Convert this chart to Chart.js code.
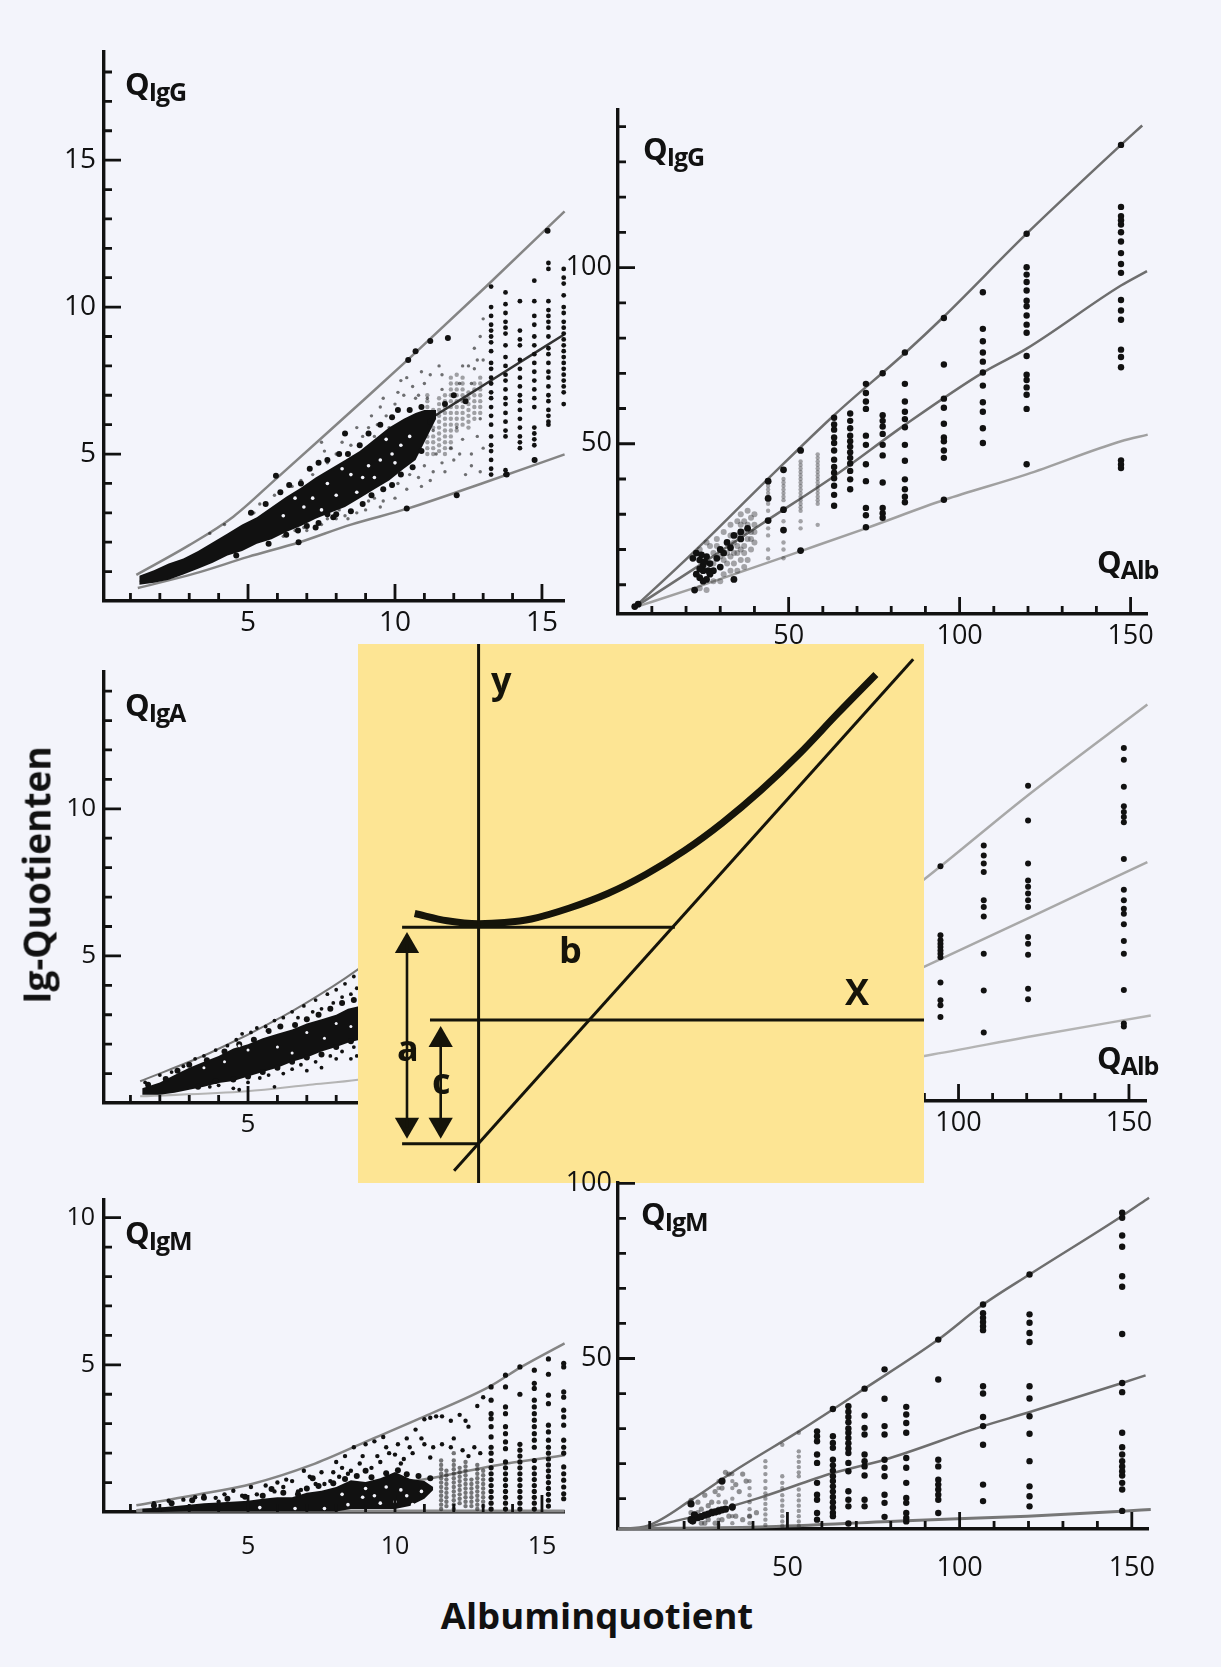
<!DOCTYPE html>
<html>
<head>
<meta charset="utf-8">
<title>Ig-Quotienten</title>
<script src="https://cdn.jsdelivr.net/npm/chart.js@4"></script>
<style>
  html, body { margin: 0; padding: 0; background: #f3f4fb; }
  #page { position: relative; width: 1221px; height: 1667px; overflow: hidden; font-family: "Open Sans", sans-serif; color: #111; }
  canvas { position: absolute; }
  #diagram { background: #fde594; }
  .t { position: absolute; font-weight: 700; white-space: nowrap; line-height: 1; }
  .q { font-size: 31px; letter-spacing: -1px; }
  .q span { font-size: 25px; position: relative; top: 6px; letter-spacing: -1px; }
  .d { font-size: 36px; color: #15140a; }
</style>
</head>
<body>
<div id="page">
  <canvas id="igGLow"></canvas>
  <canvas id="igGHigh"></canvas>
  <canvas id="igALow"></canvas>
  <canvas id="igAHigh"></canvas>
  <canvas id="diagram"></canvas>
  <canvas id="igMLow"></canvas>
  <canvas id="igMHigh"></canvas>

  <div class="t q" style="left:125px;top:68px">Q<span>IgG</span></div>
  <div class="t q" style="left:643px;top:133px">Q<span>IgG</span></div>
  <div class="t q" style="left:1097px;top:546px">Q<span>Alb</span></div>
  <div class="t q" style="left:125px;top:689px">Q<span>IgA</span></div>
  <div class="t q" style="left:1097px;top:1042px">Q<span>Alb</span></div>
  <div class="t q" style="left:125px;top:1217px">Q<span>IgM</span></div>
  <div class="t q" style="left:641px;top:1198px">Q<span>IgM</span></div>

  <div class="t d" style="left:491px;top:662px">y</div>
  <div class="t d" style="left:559px;top:932px">b</div>
  <div class="t d" style="left:845px;top:974px">X</div>
  <div class="t d" style="left:397px;top:1030px">a</div>
  <div class="t d" style="left:432px;top:1063px">c</div>

  <div class="t" id="yTitle" style="font-size:37px;left:36px;top:875px;transform:translate(-50%,-50%) rotate(-90deg)">Ig-Quotienten</div>
  <div class="t" id="xTitle" style="font-size:36.5px;left:597px;top:1615px;transform:translate(-50%,-50%)">Albuminquotient</div>
</div>

<script>
// ---- axis ticks
const lowXTicks = [1, 2, 3, 4, 5, 6, 7, 8, 9, 10, 11, 12, 13, 14, 15];
const lowXLabels = [5, 10, 15];
const highXTicks = [10, 20, 30, 40, 50, 60, 70, 80, 90, 100, 110, 120, 130, 140, 150];
const highXLabels = [50, 100, 150];
const igGLowYTicks = [1, 2, 3, 4, 5, 6, 7, 8, 9, 10, 11, 12, 13, 14, 15, 16, 17, 18];
const igGLowYLabels = [5, 10, 15];
const igGHighYTicks = [10, 20, 30, 40, 50, 60, 70, 80, 90, 100, 110, 120, 130, 140];
const igGHighYLabels = [50, 100];
const igALowYTicks = [1, 2, 3, 4, 5, 6, 7, 8, 9, 10, 11, 12, 13, 14];
const igALowYLabels = [5, 10];
const igMLowYTicks = [1, 2, 3, 4, 5, 6, 7, 8, 9, 10];
const igMLowYLabels = [5, 10];
const igMHighYTicks = [10, 20, 30, 40, 50, 60, 70, 80, 90, 100];
const igMHighYLabels = [50, 100];

// ---- QIgG, low range
const igGLowUpper = [[1.2,0.89],[3,1.9],[4.5,2.87],[6,4.2],[7.54,5.58],[9,6.9],[10.45,8.22],[13.1,10.7],[15.77,13.26]];
const igGLowMean = [[1.32,0.65],[3,1.3],[4.5,2.11],[6,3],[7.8,4.06],[9.5,5.15],[11.1,6.14],[13.2,7.46],[15.74,9.06]];
const igGLowLower = [[1.25,0.44],[3.17,0.93],[5,1.5],[6.75,2],[8.5,2.6],[10.45,3.15],[13.1,4.05],[15.77,4.99]];
const igGLowBandX = [1.3, 1.8, 2.3, 2.8, 3.3, 3.8, 4.3, 4.8, 5.3, 5.8, 6.3, 6.8, 7.3, 7.8, 8.3, 8.8, 9.3, 9.8, 10.3, 10.7, 11, 11.4];
const igGLowBandTop = [0.86, 1.05, 1.28, 1.45, 1.7, 2, 2.3, 2.6, 2.85, 3.2, 3.55, 3.85, 4.2, 4.5, 4.8, 5.1, 5.5, 5.9, 6.2, 6.4, 6.5, 6.5];
const igGLowBandBottom = [0.55, 0.62, 0.72, 0.9, 1.1, 1.3, 1.55, 1.7, 1.95, 2.1, 2.35, 2.55, 2.8, 3, 3.2, 3.5, 3.8, 4.1, 4.5, 4.8, 5.4, 6.2];
const igGLowBlobs = [[5.1,3],[5.6,3.3],[6.1,3.7],[6.4,3.95],[6.8,4],[7.1,4.5],[7.4,4.7],[7.7,4.8],[8.1,5],[8.4,5],[8.8,5.3],[9.1,5.7],[9.5,6],[9.9,6.25],[10.1,6.5],[10.5,6.5],[10.9,6.6],[6.3,2.25],[6.7,2.4],[7,2.55],[7.4,2.65],[7.7,2.95],[8,2.95],[8.5,3.05],[8.9,3.3],[9.2,3.6],[9.6,3.8],[9.9,3.95],[10.2,4.3],[10.6,4.55],[11.7,6.7],[12,7],[12.4,6.8],[5.7,1.95],[4.6,1.55],[7.9,2.85],[10.9,5.1],[11.2,6.1]];
const igGLowDots = [[5.95,4.26],[10.45,8.2],[10.7,8.5],[11.2,8.85],[11.8,8.95],[15.19,12.6],[6.72,2],[10.4,3.15],[14.75,4.8],[8.3,5.7],[12.1,3.6],[7.3,2.5],[13.8,4.3]];
const igGLowSpecks = [[5.4,3.3],[5.9,3.6],[6.2,2.2],[6.5,3.9],[6.8,4.1],[7,2.4],[7.2,4.3],[7.5,2.6],[7.7,4.7],[8,2.8],[8,5],[8.3,2.9],[8.5,5.3],[8.7,3],[8.9,5.6],[9,3.1],[9.1,5.9],[9.3,3.5],[9.4,6],[9.6,3.4],[9.7,6.3],[9.9,3.9],[10,6.7],[10.1,4],[10.3,7],[10.5,4.3],[10.6,7.3],[10.8,4.2],[10.8,7],[11,4.6],[11,7.4],[11.2,7.7],[11.3,4.4],[11.5,8],[7.6,3.4],[8.8,4.2],[9.5,6.6],[10.2,7.5],[10.9,7.8],[11.4,5],[11.7,4.4],[12,4.8],[12.2,5],[12.4,4.3],[12.6,4.6],[12.9,4.4],[13,5.2],[12.8,8.2],[12.5,8],[12.9,9],[13,9.6],[12.7,7.9],[12.2,7.4],[11.6,7.2],[9.1,3.4],[8.1,3.1],[6.1,3.7],[5.2,3],[4.2,2.6],[3.7,2.3],[7.6,5.1],[7.5,5.4],[8.2,5.4],[8.7,5.9],[9.2,6.3],[9.6,6.9],[10.1,7.1],[10.4,7.6],[10.7,6.9],[9.8,5.9],[9.3,5.6],[8.6,4.9],[7.9,4.4],[7.3,3.9],[6.6,2.4],[6.9,2.5],[7.7,2.8],[8.4,2.8],[9.5,3.2],[10,3.5],[10.4,3.8],[10.9,3.9],[11.2,4.1],[11.6,4.7],[11.9,5.2],[12.3,5.5],[12.6,5],[12.8,5.6],[12.9,6.2],[12.1,5.9],[11.3,5.8],[11.1,6.9],[11.6,7.7],[12.3,8],[12.7,8.6],[13,8.2],[12.6,7.4]];
const igGLowHoles = [[7.7,4],[8.5,4.3],[9.1,4.6],[9.9,5],[6.9,3.2],[10.5,5.6],[8,3.6],[9.5,4.8],[7.2,3.5],[8.9,4.2],[10.2,5.3],[6.2,2.9],[8.2,4.5],[9.7,5.5],[7.5,3.1],[8.7,3.7],[9.3,4.2],[6.6,3.5],[10,4.7]];
const igGLowStripeX = [11.1, 11.3, 11.5, 11.7, 11.9, 12.1, 12.3, 12.5, 12.7, 12.9];
const igGLowStripeY = [[5,5.2,5.4,5.6,5.8,6,6.2,6.4,6.6,6.8,7],[5,5.2,5.4,5.6,5.9,6.2,6.5],[5.1,5.3,5.5,5.7,5.9,6.1,6.3,6.5,6.7,6.9],[5,5.2,5.4,5.6,5.8,6,6.2,6.4,6.6,6.8,7],[5.2,5.4,5.6,5.8,6,6.2,6.4,6.6,6.8,7,7.2,7.4,7.6],[5.8,6,6.2,6.4,6.6,6.8,7,7.2,7.4,7.7],[6,6.2,6.4,6.6,6.8,7,7.2,7.4,7.6],[5.9,6.1,6.3,6.5,6.7,6.9,7.1],[6.2,6.4,6.6,6.8,7,7.2,7.4],[6.4,6.6,6.8,7,7.2,7.4,7.6]];
const igGLowColX = [13.27, 13.76, 14.25, 14.74, 15.22, 15.74];
const igGLowColY = [
  [4.3,4.5,4.8,5.1,5.3,5.6,6,6.3,6.6,6.9,7.1,7.4,7.6,7.9,8.1,8.5,8.8,9,9.2,9.4,9.7,10,10.7],
  [4.3,4.45,5.6,5.8,6.1,6.4,6.7,6.9,7.2,7.5,7.7,8,8.3,8.7,9.1,9.3,9.5,9.8,10.1,10.5],
  [5.2,5.4,5.6,5.9,6.2,6.5,6.8,7,7.3,7.6,7.9,8.2,8.7,8.9,9.2,10.2],
  [4.8,5.3,5.5,5.7,5.9,6.6,6.9,7.2,7.5,7.8,8.1,8.4,8.7,9,9.4,9.7,10.2,10.9],
  [6,6.1,6.3,6.5,6.8,7,7.3,7.6,7.8,8.1,8.4,8.6,9,9.3,9.5,9.7,9.9,10.2,11.3,11.5],
  [6.7,7.1,7.3,7.5,7.7,7.9,8.1,8.3,8.5,8.7,8.9,9.1,9.3,9.5,9.8,10,10.4,10.8,11,11.3]
];

// ---- QIgG, high range
const igGHighUpper = [[4.8,3.5],[21.6,18.7],[43.6,39.7],[63.3,58.1],[84.2,75.9],[95.2,85.9],[119.6,109.6],[147.2,134.8],[153.4,140.3]];
const igGHighMean = [[4.8,3.5],[23.9,15.5],[43.6,28.2],[63.3,40.8],[84.2,55.5],[106.8,70.2],[119.6,77],[147.2,94.9],[154.8,99]];
const igGHighLower = [[4.8,3.5],[22.7,9.2],[54,19.7],[72.6,26],[95.6,34.1],[119.6,41.3],[147.2,50.7],[155,52.6]];
const igGHighColX = [147.2, 119.6, 106.8, 95.4, 84, 77.5, 72.6, 68, 63.3];
const igGHighColY = [
  [134.8,117.2,114.6,113.4,112.2,110,107.4,104.1,101,98.5,90.8,87.8,85.2,76.7,74.6,71.7,45.3,44.1,43.1],
  [109.6,100.1,98,95.9,93.5,90.6,89,86.4,83.8,81.5,74.9,69.6,68.1,66,63.9,59.9,44.2],
  [93,82.6,79.1,75.9,73.3,70.2,66.5,61.8,59.1,54.4,50.2],
  [85.7,72.5,62.8,60.2,55.7,51.8,50.7,48.1,46,34.1],
  [75.9,67,62,59.1,57,54.7,49.7,45.2,39.9,37.1,35,33.4],
  [70,58.1,56.5,54.9,52.8,49.7,46.7,39,31.8,30.3,29],
  [67,64.4,62,59.9,52.3,49.7,44.2,39.4,31.8,29.7,26.3],
  [58.6,56.5,54.4,52.3,50.7,49.2,47.6,46,44.4,42.3,39.9,37.1],
  [57.4,55.5,54,51.8,50.2,48.1,45.5,43.4,41.8,40.2,38.1,35.5,32.4]
];
const igGHighSmallDots = [[53.5,48.1],[53.5,19.7],[48.5,42.6],[48.5,31.3],[48.5,25.5],[44,39.4],[44,28.2],[44,34.5],[38,26],[36,23],[33,20.5],[31,19],[29,17.5],[27,16],[25,15.5],[24,17],[23,19],[22,17.5],[24,12],[26,11.5],[23,13],[25,14],[26,18],[28,14],[30,15],[32,22],[30,20],[34,24],[36,25],[22.5,8.5],[34,11.5],[24.5,18.5],[25.5,16.5],[26.5,14],[24,14.5],[27,13],[25,11],[6,4.5],[5,3.8]];
const igGHighGrayX = [58.5, 53.5, 48.5, 44];
const igGHighGrayY = [
  [47,46,45,44,43,42,41,40,39,38,37,36,35,34,33,27],
  [45,44,43,42,41,40,39,38,37,36,35,34,33,32,31,28,26],
  [40,39,38,37,36,35,34,28,22,20,17.5],
  [38,37,36,35,33,31,26,24,20,17.5]
];
const igGHighCloud = [[36,30],[37,28],[38,31],[39,29],[40,30],[40,27],[39,25],[38,23],[40,22],[39,20],[37,21],[35,19],[36,17],[38,17],[34,16],[33,18],[31,13],[30,11],[28,11],[27,21],[29,23],[31,25],[33,27],[35,28],[32,16],[35,14],[37,15],[28,19],[26,22],[24,20],[24,9],[26,8.5],[34,22],[33,24],[36,27],[37,25],[35,24],[38,27],[40,25],[39,23],[37,19],[35,21],[33,14],[31,17],[29,21],[28,16],[30,18],[32,19],[34,19],[36,20]];

// ---- QIgA, low range (right part hidden under the yellow box)
const igALowUpper = [[1.33,0.74],[3.7,1.7],[6.2,2.95],[7.9,3.97],[8.74,4.54],[12,7],[15.7,10]];
const igALowLower = [[1.33,0.23],[4.95,0.4],[7.1,0.62],[8.74,0.79],[15.7,2]];
const igALowBandX = [1.4, 2, 2.5, 3, 3.5, 4, 4.5, 5, 5.5, 6, 6.5, 7, 7.5, 8, 8.4, 8.8];
const igALowBandTop = [0.5, 0.7, 0.95, 1.2, 1.4, 1.6, 1.85, 2, 2.2, 2.35, 2.5, 2.7, 2.85, 3, 3.2, 3.3];
const igALowBandBottom = [0.28, 0.28, 0.35, 0.45, 0.55, 0.68, 0.75, 0.9, 1.05, 1.2, 1.4, 1.55, 1.75, 1.9, 2.05, 2.15];
const igALowBlobs = [[3,1.3],[3.6,1.45],[4.2,1.75],[4.7,2],[5.2,2.15],[5.7,2.45],[6.1,2.6],[6.6,2.65],[7,2.85],[7.4,3],[7.8,3.2],[8.2,3.4],[8.6,3.5],[2.6,1.1],[3.3,0.55],[3.9,0.75],[4.5,0.8],[5,0.9],[5.5,1.05],[6,1.2],[6.5,1.4],[7,1.55],[7.5,1.65],[8,1.9],[8.5,2.1],[1.6,0.62],[2.2,0.82]];
const igALowSpecks = [[1.5,0.7],[2,0.95],[2.4,1.05],[2.8,1.25],[3.2,1.5],[3.5,1.6],[3.9,1.8],[4.3,1.95],[4.6,2.15],[4.8,2.35],[5.1,2.4],[5.3,2.55],[5.6,2.6],[5.9,2.8],[6.2,2.9],[6.5,3.1],[6.7,2.9],[6.9,3.3],[7.2,3.1],[7.3,3.5],[7.5,3.2],[7.7,3.7],[7.9,3.4],[8,3.85],[8.2,3.6],[8.3,4.05],[8.5,3.7],[8.6,4.3],[8.7,3.9],[4,0.6],[4.5,0.5],[5,0.7],[5.4,0.85],[5.7,0.95],[5.9,0.55],[6.2,1],[6.5,1.15],[6.8,1.3],[7,1.1],[7.3,1.4],[7.5,1.2],[7.8,1.6],[8,1.5],[8.2,1.75],[8.5,1.5],[8.6,1.9],[8.7,1.6],[4.7,0.45],[3.7,0.55]];
const igALowHoles = [[5,1.8],[6,1.9],[7,2.4],[8,2.7],[6.5,1.7],[4.2,1.4],[7.6,2.2],[8.5,2.6],[5.6,2.35],[6.9,3],[7.7,3.35],[3.5,1.2],[4.7,1.95],[6.3,2.6]];

// ---- QIgA, high range
const igAHighUpper = [[4,3.6],[90.8,67],[120.2,90],[155.4,115.8]];
const igAHighMean = [[4,3.6],[90.8,42],[120.2,55.2],[155.4,71.2]];
const igAHighLower = [[4,3.6],[90.8,16.5],[120.2,21.7],[156.4,27.8]];
const igAHighColX = [94.7, 107.4, 120.4, 148.5];
const igAHighColY = [
  [70,50.5,49.1,48.1,47.2,46.2,45.3,44.3,37.1,32.1,30.7,27.4],
  [75.9,73.1,70.8,68.4,60.4,58.5,55.8,45.3,34.9,23],
  [92.8,83,70.8,66,64.2,62.3,60.4,58.5,50,48.1,45,35.4,32.4],
  [103.5,100.2,92.5,87,85.4,84,82.5,72.1,63.4,60.4,58,56.6,53.6,48.9,45.3,35,25.5,24.7]
];

// ---- QIgM, low range
const igMLowUpper = [[1.2,0.23],[3.17,0.57],[5.16,0.96],[7.14,1.59],[9.13,2.44],[11.1,3.29],[13.2,4.25],[14.3,4.93],[15.77,5.73]];
const igMLowMean = [[1.2,0.06],[7.14,0.45],[11.1,1.13],[13.76,1.64],[15.77,1.93]];
const igMLowLower = [[1.2,0.03],[8,0.03],[15.77,0.03]];
const igMLowBandX = [1.4, 2, 3, 3.5, 4, 5, 5.5, 6, 6.5, 7, 7.5, 8, 8.5, 9, 9.5, 10, 10.5, 11, 11.3];
const igMLowBandTop = [0.11, 0.15, 0.25, 0.3, 0.32, 0.38, 0.45, 0.5, 0.5, 0.65, 0.72, 0.85, 1.08, 1.02, 1.15, 1.36, 1.13, 1.05, 0.85];
const igMLowBandBottom = [0, 0, 0.02, 0.02, 0.02, 0.02, 0.02, 0.02, 0.02, 0.02, 0.02, 0.02, 0.1, 0.1, 0.1, 0.1, 0.2, 0.45, 0.75];
const igMLowBlobs = [[3.1,0.4],[3.5,0.48],[4.3,0.45],[4.9,0.52],[5.5,0.55],[6.2,0.65],[6.7,0.6],[7,0.8],[7.4,0.88],[7.9,0.98],[8.3,1.12],[8.7,1.22],[9.2,1.18],[9.7,1.32],[10.1,1.42],[10.4,1.28],[10.8,1.22],[11.2,1.15],[9,1.4],[7.2,1.15],[5.8,0.78],[2.4,0.3],[1.8,0.22]];
const igMLowSpecks = [[1.8,0.3],[2.3,0.38],[2.8,0.42],[3.2,0.5],[3.5,0.55],[3.9,0.48],[4.2,0.6],[4.5,0.72],[4.8,0.55],[5.1,0.85],[5.3,0.6],[5.6,0.9],[5.9,0.7],[6,1],[6.2,0.85],[6.5,1.05],[6.7,0.7],[6.9,1.4],[7.1,1.2],[7.3,0.95],[7.5,1.35],[7.8,1.05],[8,1.7],[8.1,1.2],[8.3,1.9],[8.5,1.4],[8.6,2.2],[8.9,1.9],[9,2.3],[9.2,1.5],[9.3,2.4],[9.5,1.7],[9.6,2.55],[9.8,2],[10,1.95],[10.1,2.3],[10.3,1.8],[10.4,2.5],[10.6,2],[10.7,2.8],[10.9,2.5],[11,3.15],[11.2,3.2],[11.4,3.25],[11.6,3.25],[11.9,3.1],[12,2.5],[12.2,3.3],[12.5,2.9],[12.8,3.6],[13,3.9],[12.7,2.2],[12.9,2],[12.5,1.9],[11.9,2.2],[11.3,2.2],[4,0.35],[6.8,0.75],[9,0.85],[7.6,0.95],[8.2,1.5],[8.8,1.65],[9.4,1.9],[9.7,2.2],[10.2,1.65],[10.5,2.2],[11,2.3],[11.2,1.85],[12.4,3.1],[12.3,2.1],[11.6,2.3],[8.4,1.3],[7.9,1.35],[6.3,1.1]];
const igMLowStripeX = [11.57, 11.75, 12, 12.2, 12.4, 12.6, 12.8, 13];
const igMLowStripeY = [
  [0.1,0.25,0.4,0.55,0.7,0.85,1,1.15,1.3,1.45,1.6,1.75],[0.2,0.35,0.5,0.65,0.8,0.95,1.1,1.25,1.4],[0.1,0.25,0.4,0.55,0.7,0.85,1,1.15,1.3,1.45,1.6,1.75,2],[0.3,0.45,0.6,0.75,0.9,1.05,1.2,1.35,1.5],
  [0.2,0.35,0.5,0.65,0.8,0.95,1.1,1.25,1.4,1.55,1.7],[0.2,0.35,0.5,0.65,0.8,0.95,1.1],[0.1,0.25,0.4,0.55,0.7,0.85,1,1.15,1.3,1.45,1.6],[0.2,0.35,0.5,0.65,0.8,0.95,1.1,1.25,1.4]
];
const igMLowColX = [13.27, 13.76, 14.25, 14.74, 15.22, 15.74];
const igMLowColY = [
  [4.25,3.8,3.34,3.17,2.9,2.55,2.2,2,1.75,1.5,1.3,1.1,0.9,0.7,0.5,0.3,0.1],
  [4.65,4.25,3.57,3.34,2.9,2.66,2.38,2.15,1.7,1.5,1.3,1.1,0.9,0.7,0.5,0.3,0.1],
  [4.93,4,2.3,2.1,1.9,1.7,1.5,1.3,1.1,0.9,0.7,0.5,0.3,0.1],
  [4.82,4.37,4.2,3.8,3.57,3.34,3.12,2.9,2.66,2.44,2.2,1.75,1.5,1.3,1.1,0.9,0.7,0.5,0.3,0.1],
  [5.2,4.68,3.97,3.68,2.95,2.72,2.44,2.2,2,1.8,1.6,1.4,1.2,1,0.8,0.6,0.4,0.2],
  [5.05,4.93,4.08,3.9,3.46,3.23,2.95,2.44,2.2,2,1.53,1.3,1.08,0.85,0.62,0.45]
];
const igMLowHoles = [[8.9,0.5],[9.5,0.3],[10.2,0.75],[10.6,0.25],[9.7,0.85],[7.6,0.12],[8.4,0.25],[10.9,0.7],[6.6,0.12],[5.4,0.15],[9,0.8],[10,0.35],[8.2,0.6],[10.4,0.55],[9.3,0.55]];

// ---- QIgM, high range
const igMHighUpper = [[0.8,1.33],[9.5,2.3],[22.2,9.7],[36,18.8],[53.3,29.2],[72.4,41.4],[93.8,55.4],[106.8,65.4],[120.3,74],[147.2,90.7],[155,95.9]];
const igMHighMean = [[9.5,1.9],[23.3,5],[41.8,10.2],[63.2,17.3],[78.2,21.1],[106.8,30.7],[119.7,34.5],[147.2,43],[154,45.2]];
const igMHighLower = [[0.8,1.4],[41.8,1.9],[84.5,3.7],[119.7,5],[147.2,6.4],[155.5,6.9]];
const igMHighColX = [147.2, 120.3, 106.8, 93.8, 84.5, 78.2, 72.4, 67.7, 63.2, 58.6];
const igMHighColY = [
  [91.6,90.2,85.1,81.9,73.5,70.5,57,43,40.4,28.8,24.7,22.6,20.7,19.2,17.8,16.6,14.5,12.6,6.5],
  [74,62.6,60.2,57.3,54.7,42.1,38.6,33.5,28.5,20.7,13.5,10.7,7.8],
  [65.4,62.9,61.6,60.4,59.2,58.1,42.1,40,33.3,30.7,25.4,14,9.3],
  [55.4,44,21.1,19.2,15.4,14,12.6,11.1,9.7,5.9],
  [36.2,34,31.6,28.8,21.6,18.8,14.5,10.2,8.8,5.9,4.5,3.5],
  [46.9,38.5,30.7,28.3,21.1,18.8,16.4,11.1,8.8,4.8],
  [41.4,33.7,30.2,28.3,22.6,20.7,19.2,16.6,9.7,7.8],
  [36.4,34.8,33.3,31.8,30,28.8,27.3,25.8,24.3,23,20.2,17.8,12.1,9.7,7.8,2.9],
  [35.6,27.8,25.9,24.5,21.1,19.5,18,16.4,15,13.5,12,10.5,9,7.5,6,5],
  [29.2,27.8,26.4,22.6,20.2,14.5,11.1,9.7,5.9,4]
];
const igMHighGrayX = [53.3, 48.5, 43.6, 39, 34, 30];
const igMHighGrayY = [
  [28.8,23.5,22,20.5,19,17.5,16.4,12.6,11,9.5,8,6.5,5,3.5,2.2],
  [25.4,16.4,14.5,13,11,9.5,8,6.5,5,3.5,2.2],
  [20.7,19,17,15,13,11.5,10,8.5,7,5.5,4,2.5],
  [15,13,11,9,7,5,3],
  [17,15,13,10,7,5,3],
  [15,13,11,9,6,4,2.5]
];
const igMHighCloud = [[22,9.5],[24,9],[26,11],[27,8],[29,12],[31,13],[32,17.5],[33,17],[35,14],[37,17],[38,15],[25,7],[23,4],[25,3],[27,4],[29,3],[31,4],[33,5],[35,5],[37,4],[39,5],[41,6],[22,6],[28,6.5],[36,12],[34,8],[32,9],[30,7],[28,9],[26,3],[24,6]];
const igMHighCore = [[22,4],[24,4.6],[26,5.3],[28,6],[30,6.5],[32,7],[34,7.6],[23,5.4],[22.5,3.6],[25,4.9],[27,5.6],[29,6.2],[31,6.8],[22,8.5],[31,15]];

// ---- explanatory diagram, values are offsets from its own origin
const diagramCurve = [[-63.9,106.5],[-31.4,99.2],[0,96.3],[26,97.4],[52.8,101],[91,112],[129.3,126.5],[167.6,145.8],[205.9,169.4],[244,197.4],[282.6,230],[320.9,266.4],[359,306.5],[397.4,345.7]];
const diagramAsymptote = [[-24.5,-150.9],[434.7,361]];
const diagramYAxis = [[0,-163.2],[0,376.2]];
const diagramXAxis = [[-48.6,0],[445.5,0]];
const diagramTopRule = [[-76.5,92.7],[196.3,92.7]];
const diagramLowRule = [[-76.5,-124],[0,-124]];
const arrowA = [[-71.6,76],[-71.6,-108]];
const arrowC = [[-37.9,-18],[-37.9,-108]];
const arrowHeadsUp = [[-71.6,74],[-37.9,-20]];
const arrowHeadsDown = [[-71.6,-105],[-37.9,-105]];

const ink = "#111111";
const paper = "#f3f4fb";
const pairs = (list) => list.map(([x, y]) => ({ x, y }));
const columns = (xs, ys) => xs.flatMap((x, i) => ys[i].map((y) => ({ x, y })));

const line = (data, width = 2.5, color = "#858585") => ({
  data: pairs(data), showLine: true, borderColor: color, borderWidth: width, pointRadius: 0, cubicInterpolationMode: "monotone",
});
const dots = (data, radius = 2, color = ink) => ({
  data, showLine: false, pointRadius: radius, pointBackgroundColor: color, pointBorderWidth: 0,
});
const band = (xs, top, bottom) => [
  { data: xs.map((x, i) => ({ x, y: top[i] })), showLine: true, borderWidth: 0, pointRadius: 0, backgroundColor: ink, fill: "+1" },
  { data: xs.map((x, i) => ({ x, y: bottom[i] })), showLine: true, borderWidth: 0, pointRadius: 0, fill: false },
];

// ticks inside the plot, long ones where a label sits, soft edge on the marks
const panelLook = {
  id: "panelLook",
  beforeDatasetsDraw(chart) { chart.ctx.filter = "blur(0.7px)"; },
  afterDatasetsDraw(chart) { chart.ctx.filter = "none"; },
  afterDraw(chart) {
    const { ctx, chartArea, scales, options } = chart;
    const { xLabels, yLabels } = options.plugins.panelLook;
    ctx.save();
    ctx.strokeStyle = ink;
    ctx.lineWidth = 2.8;
    ctx.beginPath();
    scales.x.ticks.forEach((t) => {
      const px = scales.x.getPixelForValue(t.value);
      ctx.moveTo(px, chartArea.bottom);
      ctx.lineTo(px, chartArea.bottom - (xLabels.includes(t.value) ? 17 : 8));
    });
    scales.y.ticks.forEach((t) => {
      const py = scales.y.getPixelForValue(t.value);
      ctx.moveTo(chartArea.left, py);
      ctx.lineTo(chartArea.left + (yLabels.includes(t.value) ? 17 : 8), py);
    });
    ctx.stroke();
    ctx.restore();
  },
};

function makeAxis(ticks, labels, min, max, position, size, fontSize, padding) {
  return {
    type: "linear", position, min, max,
    grid: { display: false, drawTicks: false },
    border: { display: true, color: ink, width: 3.4 },
    afterBuildTicks(scale) { scale.ticks = ticks.map((value) => ({ value })); },
    afterFit(scale) {
      if (position === "left") scale.width = size; else scale.height = size;
      scale.paddingLeft = scale.paddingRight = scale.paddingTop = scale.paddingBottom = 0;
    },
    ticks: {
      autoSkip: false, maxRotation: 0, padding, color: ink,
      font: { family: "'Open Sans', sans-serif", size: fontSize },
      callback: (v) => (labels.includes(v) ? String(v) : ""),
    },
  };
}

function makePanel(id, box, xAxis, yAxis, datasets) {
  const ml = 70, mb = 55, mt = 24, mr = 30;
  const canvas = document.getElementById(id);
  canvas.width = box.right - box.left + ml + mr;
  canvas.height = box.bottom - box.top + mt + mb;
  canvas.style.left = box.left - ml + "px";
  canvas.style.top = box.top - mt + "px";
  return new Chart(canvas, {
    type: "scatter",
    // first listed is painted first
    data: { datasets: datasets.map((d, i) => ({ clip: false, order: datasets.length - i, ...d })) },
    plugins: [panelLook],
    options: {
      responsive: false, animation: false, devicePixelRatio: 1,
      layout: { autoPadding: false, padding: { top: mt, right: mr, left: 0, bottom: 0 } },
      plugins: { legend: { display: false }, tooltip: { enabled: false }, panelLook: { xLabels: xAxis.labels, yLabels: yAxis.labels } },
      scales: {
        x: makeAxis(xAxis.ticks, xAxis.labels, xAxis.min, xAxis.max, "bottom", mb, xAxis.font, xAxis.pad),
        y: makeAxis(yAxis.ticks, yAxis.labels, yAxis.min, yAxis.max, "left", ml, yAxis.font, yAxis.pad),
      },
    },
  });
}

makePanel("igGLow", { left: 104, right: 564, top: 52, bottom: 601 },
  { ticks: lowXTicks, labels: lowXLabels, min: 0.1, max: 15.75, font: 28, pad: 5 },
  { ticks: igGLowYTicks, labels: igGLowYLabels, min: 0, max: 18.68, font: 28, pad: 8 },
  [
    line(igGLowUpper), line(igGLowMean, 2.5, "#333333"), line(igGLowLower),
    dots(columns(igGLowStripeX, igGLowStripeY), 2.2, "rgba(40,40,40,0.42)"),
    dots(pairs(igGLowSpecks), 1.7, "rgba(20,20,20,0.6)"),
    ...band(igGLowBandX, igGLowBandTop, igGLowBandBottom),
    dots(pairs(igGLowBlobs), 3),
    dots(pairs(igGLowHoles), 1.8, paper),
    dots(columns(igGLowColX, igGLowColY), 2.4),
    dots(pairs(igGLowDots), 3),
  ]);

makePanel("igGHigh", { left: 618, right: 1147, top: 110, bottom: 614 },
  { ticks: highXTicks, labels: highXLabels, min: 0.1, max: 154.8, font: 27, pad: 6 },
  { ticks: igGHighYTicks, labels: igGHighYLabels, min: 1.7, max: 144.7, font: 27, pad: 6 },
  [
    line(igGHighUpper, 2.5, "#6e6e6e"), line(igGHighMean, 2.5, "#6e6e6e"), line(igGHighLower, 2.5, "#a0a0a0"),
    dots(columns(igGHighGrayX, igGHighGrayY), 2.2, "rgba(40,40,40,0.4)"),
    dots(pairs(igGHighCloud), 3, "rgba(40,40,40,0.4)"),
    dots(pairs(igGHighSmallDots), 3.4),
    dots(columns(igGHighColX, igGHighColY), 3.2),
  ]);

makePanel("igALow", { left: 104, right: 564, top: 672, bottom: 1103 },
  { ticks: lowXTicks, labels: lowXLabels, min: 0.1, max: 15.75, font: 26, pad: 6 },
  { ticks: igALowYTicks, labels: igALowYLabels, min: 0, max: 14.65, font: 26, pad: 8 },
  [
    line(igALowUpper, 2, "#777777"), line(igALowLower, 2.2, "#b4b4b4"),
    dots(pairs(igALowSpecks), 1.9),
    ...band(igALowBandX, igALowBandTop, igALowBandBottom),
    dots(pairs(igALowBlobs), 3),
    dots(pairs(igALowHoles), 1.5, paper),
  ]);

makePanel("igAHigh", { left: 618, right: 1146, top: 672, bottom: 1101 },
  { ticks: highXTicks, labels: highXLabels, min: 0.1, max: 155, font: 27, pad: 6 },
  { ticks: igGHighYTicks, labels: igGHighYLabels, min: 3.6, max: 125, font: 27, pad: 6 },
  [
    line(igAHighUpper, 2.5, "#a8a8a8"), line(igAHighMean, 2.5, "#a8a8a8"), line(igAHighLower, 2.5, "#b4b4b4"),
    dots(columns(igAHighColX, igAHighColY), 3),
  ]);

// explanatory diagram, one unit is one pixel of its box
(function () {
  const canvas = document.getElementById("diagram");
  canvas.width = 566; canvas.height = 539;
  canvas.style.left = "358px"; canvas.style.top = "644px";
  const diagramInk = "#15140a";
  const rule = (data, width = 3) => line(data, width, diagramInk);
  const head = (data, rotation) => ({
    data: pairs(data), showLine: false, pointStyle: "triangle", pointRadius: 14, pointRotation: rotation,
    pointBackgroundColor: diagramInk, pointBorderWidth: 0,
  });
  new Chart(canvas, {
    type: "scatter",
    data: {
      datasets: [
        rule(diagramYAxis), rule(diagramXAxis), rule(diagramTopRule),
        rule(diagramLowRule), rule(diagramAsymptote),
        rule(arrowA, 2.6), rule(arrowC, 2.6),
        head(arrowHeadsUp, 0), head(arrowHeadsDown, 180), rule(diagramCurve, 7),
      ],
    },
    options: {
      responsive: false, animation: false, devicePixelRatio: 1,
      layout: { autoPadding: false, padding: 0 },
      plugins: { legend: { display: false }, tooltip: { enabled: false } },
      scales: {
        x: { type: "linear", display: false, min: -120.6, max: 445.5 },
        y: { type: "linear", display: false, min: -163.2, max: 376.2 },
      },
    },
  });
})();

makePanel("igMLow", { left: 104, right: 564, top: 1200, bottom: 1512 },
  { ticks: lowXTicks, labels: lowXLabels, min: 0.1, max: 15.75, font: 25, pad: 20 },
  { ticks: igMLowYTicks, labels: igMLowYLabels, min: 0, max: 10.6, font: 25, pad: 9 },
  [
    line(igMLowUpper), line(igMLowMean), line(igMLowLower, 3, "#888888"),
    dots(columns(igMLowStripeX, igMLowStripeY), 2.2, "rgba(30,30,30,0.6)"),
    dots(pairs(igMLowSpecks), 2.2),
    ...band(igMLowBandX, igMLowBandTop, igMLowBandBottom),
    dots(pairs(igMLowBlobs), 3),
    dots(columns(igMLowColX, igMLowColY), 2.6),
    dots(pairs(igMLowHoles), 1.8, paper),
  ]);

makePanel("igMHigh", { left: 618, right: 1148, top: 1183, bottom: 1529 },
  { ticks: highXTicks, labels: highXLabels, min: 0.8, max: 154.7, font: 27, pad: 23 },
  { ticks: igMHighYTicks, labels: igMHighYLabels, min: 1.33, max: 100.1, font: 27, pad: 6 },
  [
    line(igMHighUpper, 2.5, "#6e6e6e"), line(igMHighMean, 2.5, "#6e6e6e"), line(igMHighLower, 3, "#777777"),
    dots(columns(igMHighGrayX, igMHighGrayY), 2.2, "rgba(40,40,40,0.45)"),
    dots(pairs(igMHighCloud), 2.6, "rgba(40,40,40,0.5)"),
    dots(pairs(igMHighCore), 3.6),
    dots(columns(igMHighColX, igMHighColY), 3.2),
  ]);
</script>
</body>
</html>
